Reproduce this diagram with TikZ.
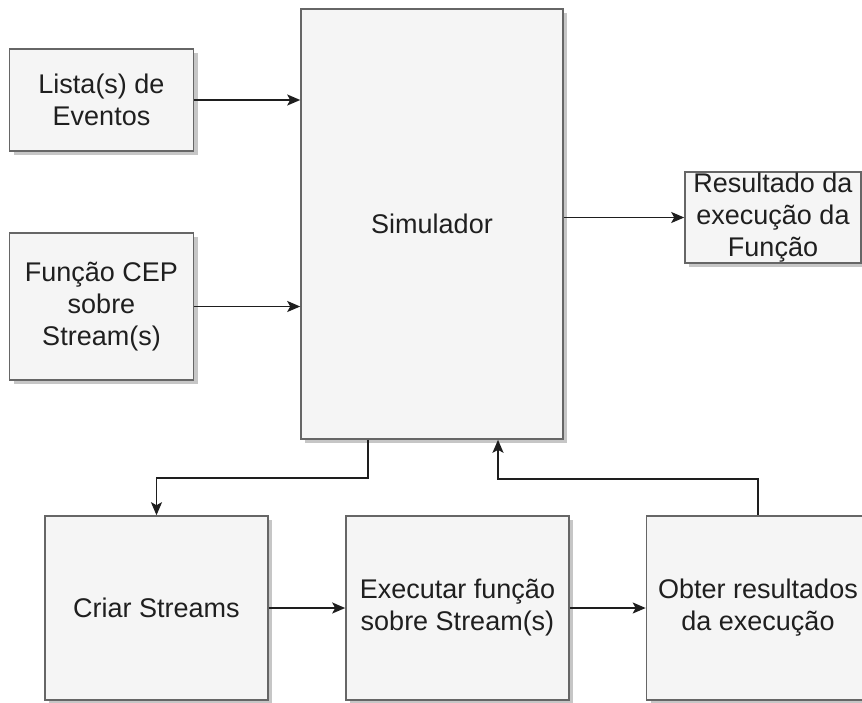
\documentclass[tikz,border=0pt]{standalone}
\usepackage{fontspec}
\setmainfont{Liberation Sans}
\usetikzlibrary{arrows.meta,shadows}
\definecolor{boxfill}{HTML}{F5F5F5}
\definecolor{boxline}{HTML}{666666}
\definecolor{shadowc}{HTML}{C6C6C6}
\definecolor{wire}{HTML}{1E1E1E}
\tikzset{
  block/.style={draw=boxline, fill=boxfill, line width=1.6pt, inner sep=0pt,
    align=center, font=\fontsize{27}{32}\selectfont, text=black!88,
    drop shadow={shadow xshift=4pt, shadow yshift=-4pt, fill=shadowc, opacity=1}},
  arr/.style={draw=wire, line width=1.8pt,
    -{Stealth[length=13pt, width=11pt, inset=3pt]}}
}
\begin{document}
\begin{tikzpicture}[x=1pt, y=-1pt]
\useasboundingbox (0,0) rectangle (862,702);
\fill[white] (0,0) rectangle (862,702);

% input boxes
\node[block, minimum width=184pt, minimum height=102pt] (lista) at (101.5,100) {Lista(s) de\\Eventos};
\node[block, minimum width=184pt, minimum height=147pt] (funcao) at (101.5,306.5) {Função CEP\\sobre\\Stream(s)};

% central simulator
\node[block, minimum width=262pt, minimum height=430pt] (sim) at (432,224) {Simulador};

% output box
\node[block, minimum width=176pt, minimum height=91pt] (res) at (773,217.5) {Resultado da\\execução da\\Função};

% processing chain
\node[block, minimum width=223pt, minimum height=184pt] (criar) at (156.5,608) {Criar Streams};
\node[block, minimum width=223pt, minimum height=184pt] (exec) at (457.5,608) {Executar função\\sobre Stream(s)};
\node[block, minimum width=223pt, minimum height=184pt] (obter) at (758,608) {Obter resultados\\da execução};

% connectors
\draw[arr] (lista.east) -- (lista.east -| sim.west);
\draw[arr] (funcao.east) -- (funcao.east -| sim.west);
\draw[arr] (res.west -| sim.east) -- (res.west);
\coordinate (simout) at ([xshift=-64pt]sim.south);
\coordinate (simin) at ([xshift=66pt]sim.south);
\coordinate (down) at (0,478);
\coordinate (up) at (0,479);
\draw[arr] (simout) -- (simout |- down) -| (criar.north);
\draw[arr] (obter.north) -- (obter.north |- up) -| (simin);
\draw[arr] (criar.east) -- (exec.west);
\draw[arr] (exec.east) -- (obter.west);
\end{tikzpicture}
\end{document}
